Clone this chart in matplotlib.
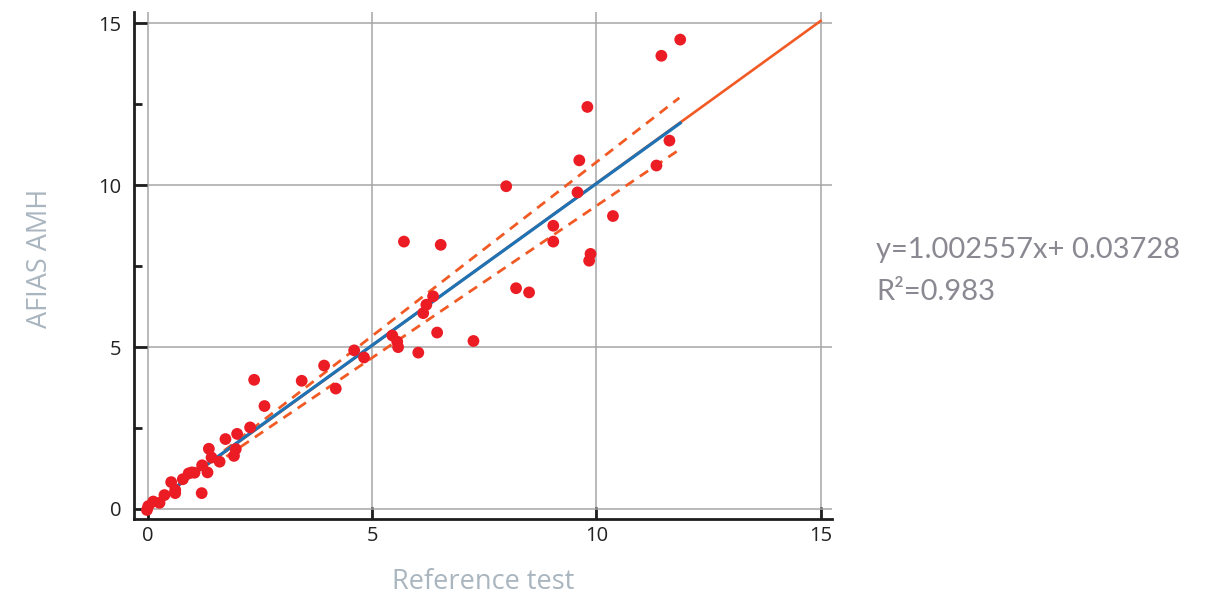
import numpy as np
import matplotlib
matplotlib.use("Agg")
import matplotlib.pyplot as plt
from matplotlib.ticker import MultipleLocator

ref_test = [11.87, 11.45, 9.80, 9.62, 11.63, 11.34, 9.58, 10.37, 9.87, 9.84,
            7.99, 9.04, 9.04, 5.71, 6.53, 8.21, 8.50, 6.36, 6.21, 6.14,
            6.45, 7.26, 5.45, 5.56, 5.58, 6.03,
            4.60, 4.82, 3.93, 4.19, 3.43, 2.37, 2.60, 2.28, 1.99,
            1.73, 1.96, 1.92, 1.36, 1.42, 1.60, 1.21, 1.33, 0.98, 1.04,
            0.91, 0.78, 0.52, 0.61, 0.61, 1.20, 0.37, 0.26, 0.12, -0.02, 0.01]
afias_amh = [14.50, 14.00, 12.42, 10.77, 11.38, 10.61, 9.78, 9.05, 7.88, 7.67,
             9.97, 8.75, 8.26, 8.26, 8.16, 6.82, 6.69, 6.57, 6.31, 6.05,
             5.45, 5.19, 5.36, 5.17, 5.00, 4.83,
             4.90, 4.68, 4.43, 3.72, 3.96, 3.99, 3.18, 2.52, 2.32,
             2.16, 1.85, 1.64, 1.86, 1.59, 1.46, 1.35, 1.13, 1.13, 1.12,
             1.10, 0.92, 0.83, 0.59, 0.49, 0.49, 0.43, 0.19, 0.23, -0.03, 0.09]

slope, intercept = 1.002557, 0.03728
r2 = 0.983
ref_x = [0, 15]                       # reference regression line span
fit_x = [0.64, 11.87]                 # fitted (blue) line span
fit_y = [0.70, 11.92]
ci_up_x, ci_up_y = [1.70, 11.85], [1.80, 12.70]
ci_lo_x, ci_lo_y = [1.75, 11.85], [1.62, 11.10]

RED = "#EC1C24"
ORANGE = "#F15A24"
BLUE = "#1F72B4"
LABEL = "#A9B5BF"
EQ = "#8B8892"

fig = plt.figure(figsize=(12.2, 5.95), dpi=100)
ax = fig.add_axes([0.1098, 0.1277, 0.572, 0.852])

ax.grid(True, color="#A6A6A6", lw=1.1, zorder=0)
ax.set_axisbelow(True)

ax.plot(ref_x, [slope * v + intercept for v in ref_x], color=ORANGE, lw=1.9, zorder=2)
ax.plot(ci_up_x, ci_up_y, color=ORANGE, lw=2.0, ls=(0, (3.6, 2.6)), zorder=2)
ax.plot(ci_lo_x, ci_lo_y, color=ORANGE, lw=2.0, ls=(0, (3.6, 2.6)), zorder=2)
ax.plot(fit_x, fit_y, color=BLUE, lw=2.3, zorder=3)
ax.scatter(ref_test, afias_amh, s=72, color=RED, edgecolors="none", zorder=4)

ax.set_xlim(-0.31, 15.25)
ax.set_ylim(-0.31, 15.35)
ax.xaxis.set_major_locator(MultipleLocator(5))
ax.yaxis.set_major_locator(MultipleLocator(5))
ax.yaxis.set_minor_locator(MultipleLocator(2.5))

for s in ("top", "right"):
    ax.spines[s].set_visible(False)
for s in ("left", "bottom"):
    ax.spines[s].set_linewidth(2.0)
    ax.spines[s].set_color("#1E1E1E")

ax.tick_params(which="major", direction="in", length=9, width=2.0, color="#1E1E1E",
               labelsize=14.5, labelcolor="#222222")
ax.tick_params(which="minor", direction="in", length=5.5, width=2.0, color="#1E1E1E")
ax.tick_params(axis="y", pad=9)
ax.tick_params(axis="x", pad=5)
for t in ax.get_xticklabels() + ax.get_yticklabels():
    t.set_fontfamily("Open Sans")

ax.set_xlabel("Reference test", fontsize=19.5, color=LABEL, family="Open Sans")
ax.set_ylabel("AFIAS AMH", fontsize=19.5, color=LABEL, family="Open Sans")
ax.xaxis.set_label_coords(0.501, -0.096)
ax.yaxis.set_label_coords(-0.115, 0.515)

fig.text(0.718, 0.579, f"y={slope}x+ {intercept}", fontsize=21, color=EQ,
         family="Lato", va="center", ha="left")
fig.text(0.718, 0.510, f"R²={r2}", fontsize=21, color=EQ,
         family="Lato", va="center", ha="left")

fig.savefig("out.png", dpi=100)
